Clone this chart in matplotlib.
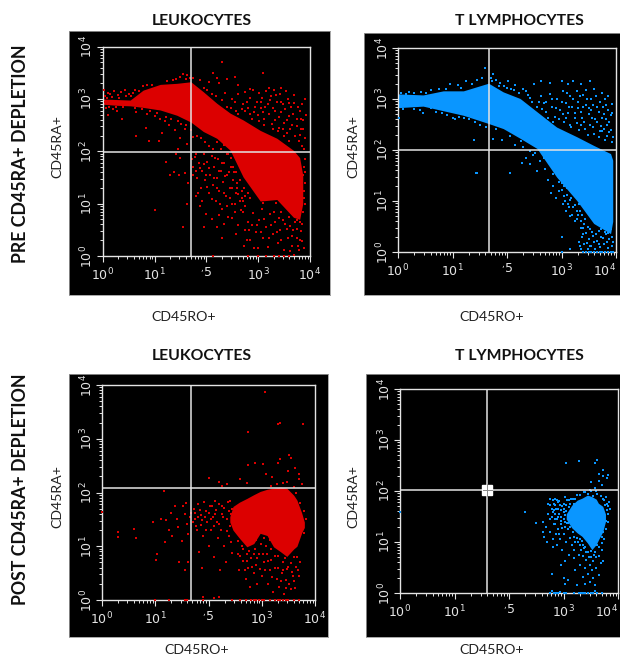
import matplotlib
matplotlib.use("Agg")
import matplotlib.pyplot as plt
import numpy as np
from matplotlib.ticker import LogLocator, NullFormatter

W, H = 620, 657
RED = "#dc0000"
BLUE = "#0a96ff"
LIGHT = "#e4e4e4"
plt.rcParams["font.family"] = ["Lato", "DejaVu Sans"]

tick_values = [1, 10, 100, 1000, 10000]
x_tick_labels = ["10$^{0}$", "10$^{1}$", "$^{,}$5", "10$^{3}$", "10$^{4}$"]
y_tick_labels = ["10$^{0}$", "10$^{1}$", "10$^{2}$", "10$^{3}$", "10$^{4}$"]

# All positions below are log10 of the fluorescence value.
# Dense populations: column position, upper edge, lower edge
p1_x = [0.01, 0.27, 0.53, 0.78, 1.11, 1.43, 1.70, 1.94, 2.20, 2.46, 2.71, 3.04, 3.36, 3.68, 3.80, 3.86]
p1_top = [3.00, 2.99, 2.98, 3.17, 3.28, 3.30, 3.33, 3.14, 2.92, 2.73, 2.60, 2.40, 2.25, 2.02, 1.88, 1.55]
p1_bot = [2.90, 2.88, 2.87, 2.84, 2.79, 2.69, 2.56, 2.38, 2.25, 2.02, 1.51, 1.05, 1.08, 0.74, 0.70, 1.00]

p2_x = [0.00, 0.46, 0.83, 1.20, 1.66, 1.93, 2.24, 2.55, 2.91, 3.28, 3.59, 3.90, 3.94]
p2_top = [3.10, 3.08, 3.16, 3.16, 3.31, 3.14, 3.01, 2.75, 2.45, 2.26, 2.09, 1.93, 1.80]
p2_bot = [2.83, 2.86, 2.77, 2.68, 2.52, 2.42, 2.23, 2.03, 1.47, 1.01, 0.56, 0.36, 0.60]

p3_x = [2.40, 2.46, 2.58, 2.72, 2.85, 2.97, 3.10, 3.22, 3.35, 3.47, 3.60, 3.66, 3.75, 3.80]
p3_top = [1.55, 1.74, 1.82, 1.89, 1.96, 2.02, 2.06, 2.08, 2.10, 2.08, 1.95, 1.86, 1.62, 1.45]
p3_bot = [1.45, 1.30, 1.15, 0.99, 1.05, 1.24, 1.20, 0.99, 0.90, 0.81, 0.95, 1.00, 1.25, 1.35]

p4_x = [3.05, 3.15, 3.25, 3.34, 3.44, 3.52, 3.60, 3.64, 3.72, 3.77]
p4_top = [1.55, 1.72, 1.82, 1.86, 1.92, 1.89, 1.84, 1.76, 1.70, 1.55]
p4_bot = [1.45, 1.28, 1.18, 1.11, 0.98, 0.85, 0.95, 1.04, 1.20, 1.40]

# Individual events
p1_dots = [
 (0.02,3.18),(0.05,3.05),(0.1,3.12),(0.15,3.1),(0.22,3.15),(0.3,3.08),(0.35,3.13),(0.43,3.18),(0.5,3.1),(0.58,3.12),(0.63,3.17),(0.78,3.24),(0.85,3.27),(0.96,3.27),
 (0.06,2.82),(0.12,2.85),(0.2,2.8),(0.28,2.78),(0.1,2.7),(0.38,2.62),(0.65,2.75),(0.85,2.72),(1.0,2.68),(1.1,2.62),(1.2,2.58),(1.28,2.5),(0.65,2.3),(0.83,2.45),(0.9,2.2),(1.08,2.2),(1.15,2.35),(1.4,2.4),(1.5,2.25),(1.58,2.43),(1.62,2.15),(1.45,2.05),
 (1.5,3.42),(1.55,3.48),(1.62,3.45),(1.75,3.4),(1.88,3.36),(2.05,3.32),(2.12,3.5),(2.2,3.4),(2.25,3.3),(2.4,3.38),(2.55,3.42),(2.62,3.27),(2.85,3.2),(3.1,3.5),(2.3,3.7),(2.36,3.12),(2.5,3.0),
 (2.55,2.95),(2.62,3.1),(2.7,2.9),(2.75,3.14),(2.8,2.82),(2.85,3.02),(2.9,3.17),(2.92,2.75),(2.98,2.95),(3.02,3.12),(3.05,2.82),(3.08,3.02),(3.12,2.62),(3.15,3.15),(3.18,2.9),(3.2,2.72),(3.25,3.05),(3.28,2.83),(3.3,3.17),(3.33,2.6),(3.36,2.95),(3.4,2.45),(3.42,3.1),(3.45,2.75),(3.48,2.9),(3.5,2.55),(3.53,3.15),(3.55,2.35),(3.58,3.0),(3.6,2.68),(3.64,2.85),(3.66,2.5),(3.7,3.08),(3.72,2.3),(3.75,2.62),(3.78,2.2),(3.8,2.78),(3.82,2.42),(3.85,2.1),(3.88,2.05),(3.86,2.6),(3.9,3.0),(3.2,3.22),(3.45,3.22),
 (2.62,2.72),(2.75,2.78),(2.88,2.62),(3.02,2.58),(3.12,2.5),(3.28,2.42),(3.38,2.38),(3.5,2.3),(3.6,2.2),
 (1.42,1.95),(1.5,1.88),(1.38,1.6),(1.48,1.55),(1.58,1.58),(1.22,1.8),(1.3,1.55),(1.65,1.4),(1.72,1.85),(1.75,1.7),(1.8,1.95),(1.82,1.5),(1.86,1.78),(1.9,1.3),(1.92,1.62),(1.95,1.95),(1.98,1.45),(2.02,1.8),(2.05,1.2),(2.08,1.55),(2.1,1.92),(2.12,1.35),(2.15,1.7),(2.18,1.05),(2.2,1.5),(2.22,1.85),(2.25,1.25),(2.28,1.62),(2.3,0.9),(2.32,1.42),(2.35,1.78),(2.38,1.15),(2.4,1.55),(2.42,0.75),(2.45,1.3),(2.48,1.7),(2.5,1.0),(2.52,1.45),(2.55,0.85),(2.58,1.2),(2.6,1.4),(2.62,0.6),(2.65,1.05),(2.68,1.25),(1.8,1.15),(1.88,0.95),(2.0,0.8),(2.1,0.7),(1.95,0.55),(2.2,0.55),(2.3,0.35),(1.55,0.55),(1.62,1.0),(1.0,0.88),
 (2.7,0.85),(2.75,0.5),(2.72,0.2),(2.8,0.65),(2.85,0.3),(2.9,0.82),(2.95,0.45),(3.0,0.15),(3.02,0.68),(3.08,0.9),(3.1,0.35),(3.15,0.55),(3.18,0.18),(3.22,0.8),(3.28,0.42),(3.32,0.65),(3.38,0.25),(3.42,0.5),(3.45,0.85),(3.5,0.12),(3.52,0.62),(3.58,0.35),(3.6,0.75),(3.65,0.2),(3.68,0.5),(3.72,0.65),(3.75,0.35),(3.78,0.12),(3.82,0.48),(3.85,0.28),(3.55,0.95),(3.35,1.02),(3.1,1.02),
 (3.9,1.0),(3.9,1.4),(3.88,1.7),(3.9,1.85),(2.12,0.0),(2.8,0.0),(3.0,0.0),(3.15,0.0),(3.3,0.0),(3.4,0.0),(3.5,0.0),(3.6,0.0),(3.7,0.02),
 # second pass over the speckled regions
 (0.04,2.95),(0.08,3.02),(0.14,2.93),(0.18,3.04),(0.25,2.84),(0.32,3.02),(0.4,2.85),(0.45,3.06),(0.55,3.05),(0.62,2.82),(0.7,3.16),(0.75,2.8),(0.92,2.78),(1.05,2.74),(1.22,2.66),(1.32,2.62),(1.45,2.58),(1.52,2.52),(1.6,2.5),(1.25,3.34),(1.35,3.36),(1.42,3.38),(1.6,3.38),(1.68,3.4),
 (1.95,3.22),(2.02,3.18),(2.1,3.1),(2.18,3.05),(2.3,2.98),(2.4,2.85),(2.48,2.82),(2.58,2.78),(2.68,2.8),(2.78,2.95),(2.84,2.72),(2.94,2.85),(3.0,2.7),(3.06,2.95),(3.1,2.75),(3.14,2.85),(3.22,2.98),(3.26,2.52),(3.32,2.78),(3.35,3.08),(3.4,2.65),(3.44,2.95),(3.48,2.42),(3.52,2.8),(3.56,2.6),(3.6,2.92),(3.62,2.42),(3.68,2.72),(3.7,2.92),(3.74,2.48),(3.76,2.85),(3.8,2.32),(3.82,2.62),(3.84,2.9),(3.87,2.42),(3.9,2.25),(3.92,2.7),
 (1.7,2.4),(1.75,2.28),(1.82,2.3),(1.9,2.25),(1.98,2.18),(2.05,2.1),(2.12,2.05),(2.2,2.18),(2.28,2.05),(2.35,2.12),(2.42,1.95),(2.48,1.88),(2.52,1.7),(2.58,1.6),(2.6,1.3),(2.65,1.45),(2.68,1.1),(2.72,1.3),(2.75,1.15),(2.8,1.2),(2.85,1.1),
 (1.74,1.55),(1.78,1.9),(1.8,1.62),(1.84,1.2),(1.88,1.68),(1.92,1.05),(1.96,1.75),(2.0,1.55),(2.02,1.32),(2.06,1.68),(2.1,1.08),(2.14,1.5),(2.16,1.88),(2.2,1.3),(2.24,1.62),(2.26,1.0),(2.3,1.78),(2.34,1.2),(2.36,1.52),(2.4,1.95),(2.44,1.6),(2.46,1.1),(2.5,1.3),(2.54,1.6),(2.56,1.0),(2.62,1.18),(2.66,0.88),(2.7,1.05),(2.74,0.95),(2.4,0.95),(2.25,0.78),(2.34,0.62),(2.5,0.72),(2.58,0.42),
 (2.78,0.3),(2.82,0.5),(2.88,0.6),(2.92,0.15),(2.98,0.6),(3.05,0.45),(3.12,0.7),(3.2,0.35),(3.25,0.6),(3.3,0.85),(3.36,0.45),(3.4,0.72),(3.44,0.3),(3.48,0.68),(3.55,0.52),(3.62,0.58),(3.66,0.38),(3.7,0.8),(3.74,0.52),(3.8,0.3),(3.84,0.62),(3.88,0.15),(3.76,0.2),(3.62,0.1),
 (3.88,1.25),(3.86,1.55),(3.9,1.6),(3.88,1.1),(3.86,0.85),(3.8,0.65),(3.75,0.68),
]
p2_dots = [
 (0.02,2.62),(0.1,2.8),(0.2,3.13),(0.3,2.8),(0.4,2.78),(0.45,2.72),(0.52,3.12),(0.6,3.18),(0.7,2.75),(0.75,3.2),(0.9,2.68),(0.88,3.2),(1.0,2.62),(0.95,3.3),(1.05,2.6),(1.1,3.27),(1.15,3.22),(1.25,3.35),(1.3,2.6),(1.35,3.3),(1.45,3.38),(1.42,2.55),(1.55,3.42),(1.6,3.6),(1.75,3.5),(1.62,2.45),(1.4,2.2),
 (1.72,3.35),(1.8,3.38),(1.88,3.32),(1.95,3.25),(2.02,3.35),(2.08,3.2),(2.15,3.28),(2.22,3.12),(2.3,3.2),(2.38,3.08),(2.5,3.3),(2.62,3.36),(2.78,3.32),(3.0,3.35),(3.12,3.3),(3.22,3.35),(3.35,3.3),(3.52,3.35),(3.45,3.18),
 (2.45,2.95),(2.55,2.85),(2.62,3.05),(2.68,2.92),(2.72,2.75),(2.78,3.1),(2.82,2.85),(2.88,2.65),(2.92,3.0),(2.98,2.78),(3.02,3.15),(3.05,2.55),(3.08,2.92),(3.12,2.72),(3.15,3.05),(3.18,2.45),(3.2,2.85),(3.25,2.62),(3.28,3.15),(3.3,2.95),(3.32,2.4),(3.36,2.75),(3.4,3.08),(3.42,2.55),(3.45,2.88),(3.48,2.3),(3.5,2.7),(3.55,3.0),(3.58,2.45),(3.6,3.2),(3.62,2.6),(3.65,2.85),(3.68,2.25),(3.7,2.95),(3.72,2.48),(3.75,3.12),(3.78,2.7),(3.8,2.2),(3.82,2.88),(3.84,2.5),(3.86,3.05),(3.88,2.35),(3.9,2.68),(3.92,2.15),(3.92,2.9),(3.35,2.5),(3.55,2.78),(3.75,2.38),
 (1.8,2.42),(1.75,2.22),(1.9,2.2),(2.05,2.28),(2.15,2.1),(2.25,2.18),(2.3,2.05),(2.42,1.98),(2.28,1.75),(2.35,1.85),(2.42,1.72),(2.48,1.9),(2.55,1.58),(2.52,1.95),(2.6,1.78),(2.68,1.85),(2.7,1.62),(2.75,1.42),(2.8,1.7),(2.85,1.52),(2.05,1.55),(1.45,1.55),
 (2.8,1.15),(2.85,1.3),(2.9,1.05),(2.95,1.2),(3.0,1.35),(3.02,0.95),(3.05,1.1),(3.08,0.8),(3.1,1.25),(3.12,0.95),(3.15,0.7),(3.18,1.05),(3.22,0.88),(3.25,0.6),(3.28,0.8),(3.32,0.95),(3.35,0.48),(3.38,0.72),(3.42,0.55),(3.45,0.85),(3.0,0.3),(3.0,0.0),(3.15,0.05),
 (3.32,0.2),(3.35,0.05),(3.38,0.3),(3.42,0.15),(3.45,0.38),(3.48,0.05),(3.5,0.25),(3.52,0.45),(3.55,0.12),(3.58,0.32),(3.62,0.05),(3.65,0.22),(3.68,0.42),(3.7,0.1),(3.72,0.3),(3.75,0.5),(3.78,0.15),(3.82,0.35),(3.85,0.08),(3.88,0.25),(3.9,0.45),(3.92,0.12),
 (3.4,0.0),(3.45,0.0),(3.5,0.0),(3.55,0.0),(3.6,0.0),(3.65,0.0),(3.7,0.0),(3.75,0.0),(3.8,0.0),(3.85,0.0),(3.9,0.0),(3.95,0.0),
 (1.43,1.55),
 # second pass over the speckled regions
 (0.05,3.12),(0.15,3.1),(0.3,3.12),(0.42,3.14),(0.6,2.82),(0.8,2.72),(1.12,2.64),(1.22,2.62),(1.5,2.5),(1.7,3.42),(1.85,3.25),(2.0,3.22),(2.12,3.18),(2.35,3.15),(2.42,3.02),(2.58,2.95),(2.65,2.8),(2.72,2.95),(2.75,2.62),(2.82,3.0),(2.85,2.55),(2.9,2.82),(2.95,2.6),(3.0,2.95),(3.02,2.7),(3.08,2.62),(3.1,3.12),(3.14,2.85),(3.16,2.5),(3.22,3.0),(3.24,2.72),(3.28,2.52),(3.3,2.82),(3.34,3.05),(3.38,2.62),(3.4,2.85),(3.44,2.42),(3.46,3.0),(3.5,2.82),(3.52,2.5),(3.56,2.62),(3.58,2.88),(3.6,2.32),(3.64,3.05),(3.66,2.55),(3.68,2.75),(3.7,2.38),(3.74,2.62),(3.76,2.85),(3.78,2.42),(3.8,3.0),(3.82,2.6),(3.84,2.28),(3.86,2.78),(3.88,2.55),(3.9,2.4),(3.92,2.72),(3.94,2.25),
 (2.65,2.05),(2.72,1.98),(2.78,1.92),(2.82,1.82),(2.88,1.75),(2.9,1.58),(2.95,1.38),(2.98,1.5),(3.0,1.22),(3.04,1.3),(3.06,1.0),(3.1,1.12),(3.14,0.88),(3.16,1.02),(3.2,0.72),(3.24,0.92),(3.28,0.65),(3.3,0.72),(3.34,0.8),(3.36,0.6),(3.4,0.48),(3.44,0.65),(3.48,0.5),
 (3.34,0.12),(3.4,0.35),(3.46,0.18),(3.52,0.12),(3.56,0.4),(3.6,0.2),(3.64,0.35),(3.68,0.15),(3.72,0.45),(3.76,0.28),(3.8,0.4),(3.84,0.2),(3.86,0.38),(3.92,0.3),(3.94,0.2),
]
p3_dots = [
 (0.0,1.64),(0.3,1.26),(0.3,1.18),(0.6,1.33),(0.63,1.15),(0.95,1.45),(1.02,0.75),(1.03,0.85),(1.1,1.5),(1.18,1.07),(1.2,1.48),(1.16,2.02),(1.25,1.3),(1.3,1.62),(1.32,1.2),(1.38,1.75),(1.4,1.5),(1.42,1.35),(1.45,0.7),(1.5,1.1),(1.52,1.75),(1.55,1.6),(1.55,0.55),(1.6,1.42),(1.62,1.22),(1.58,1.8),(1.62,0.7),(1.65,1.55),
 (1.72,1.7),(1.75,1.5),(1.78,1.3),(1.8,1.78),(1.82,0.9),(1.85,1.58),(1.85,1.4),(1.88,0.6),(1.9,1.2),(1.92,1.82),(1.95,1.65),(1.98,1.45),(2.0,1.0),(2.02,1.75),(2.05,1.3),(2.08,1.55),(2.1,0.8),(2.12,1.85),(2.15,1.68),(2.18,1.15),(2.2,1.42),(2.22,0.55),(2.25,1.75),(2.28,1.55),(2.3,1.0),(2.32,0.7),(2.35,1.28),(2.38,1.65),(2.4,1.85),(2.42,1.08),(2.45,0.88),(2.2,2.2),(2.0,2.27),(2.25,2.12),(2.35,2.15),(2.6,2.25),(2.72,2.18),
 (2.55,0.85),(2.58,0.55),(2.62,1.0),(2.65,0.72),(2.7,0.4),(2.72,0.85),(2.75,0.6),(2.78,0.25),(2.8,0.78),(2.85,0.5),(2.88,0.95),(2.9,0.65),(2.92,0.3),(2.95,0.85),(2.98,1.05),(3.0,0.45),(3.05,0.7),(3.08,1.0),(3.1,0.85),(3.12,0.3),(3.15,0.55),(3.18,0.75),(3.22,0.15),(3.25,0.6),(3.28,0.4),(3.3,0.82),(3.32,0.25),(3.38,0.5),(3.4,0.7),(3.42,0.12),(3.45,0.38),(3.48,0.58),(3.52,0.3),(3.55,0.68),(3.58,0.45),(3.6,0.8),(3.62,0.22),(3.68,0.55),(3.72,0.7),
 (3.05,1.15),(3.1,1.25),(2.9,1.12),(2.85,1.18),(3.15,1.12),(2.75,2.52),(2.88,2.55),(3.02,2.53),(3.3,2.55),(3.35,2.62),(3.52,2.7),(3.55,2.65),(3.62,2.45),(3.7,2.35),(3.5,2.4),(3.2,2.28),(3.08,2.35),(3.3,3.28),(3.35,3.3),(3.77,3.28),(2.74,3.12),(3.07,3.87),(3.7,2.25),(3.75,2.15),
 (1.0,0.0),(1.25,0.0),(1.55,0.0),(1.6,0.0),(1.9,0.05),(1.9,0.0),(2.1,0.03),(2.2,0.05),(2.45,0.0),(2.6,0.0),(2.7,0.0),(2.8,0.0),(2.85,0.0),(2.9,0.0),(2.95,0.0),(3.0,0.0),(3.05,0.0),(3.15,0.0),(3.25,0.0),(3.3,0.0),(3.35,0.0),(3.4,0.0),(3.45,0.0),(3.5,0.0),(3.6,0.0),(3.7,0.0),
 # second pass over the speckled regions
 (1.68,1.62),(1.7,1.45),(1.74,1.62),(1.76,1.38),(1.8,1.55),(1.84,1.68),(1.88,1.48),(1.94,1.55),(1.96,1.3),(2.0,1.62),(2.04,1.5),(2.06,1.75),(2.1,1.38),(2.12,1.6),(2.16,1.45),(2.2,1.78),(2.24,1.3),(2.26,1.6),(2.3,1.72),(2.34,1.5),(2.36,1.82),(2.4,1.38),(2.42,1.6),(2.38,1.2),(2.44,1.7),
 (2.56,1.1),(2.6,0.82),(2.64,0.95),(2.68,0.55),(2.72,0.72),(2.76,0.92),(2.82,0.62),(2.86,0.85),(2.92,0.78),(2.96,0.58),(3.02,0.85),(3.06,0.55),(3.12,0.72),(3.18,0.95),(3.2,0.42),(3.24,0.82),(3.3,0.6),(3.36,0.35),(3.4,0.55),(3.44,0.78),(3.46,0.22),(3.5,0.62),(3.54,0.2),(3.56,0.52),(3.6,0.35),(3.64,0.62),(3.66,0.8),(3.7,0.45),
 (3.18,2.12),(3.28,2.15),(3.4,2.18),(3.48,2.2),(3.6,2.1),(3.65,2.0),(3.72,1.8),(3.8,1.65),(3.84,1.5),(3.8,1.25),
]
p4_dots = [
 (0.0,1.58),(2.3,1.58),(2.5,1.38),(2.62,1.4),(2.62,1.2),(2.65,1.1),(2.68,1.3),(2.7,1.0),(2.72,1.55),(2.72,1.75),(2.75,1.45),(2.75,1.85),(2.76,1.2),(2.78,1.65),(2.8,1.05),(2.8,0.9),(2.82,1.35),(2.82,1.75),(2.85,1.55),(2.85,1.85),(2.86,1.15),(2.88,1.45),(2.88,0.95),(2.9,1.65),(2.9,1.25),(2.92,1.8),(2.93,1.05),(2.95,1.5),(2.95,1.35),(2.98,1.7),(2.98,0.85),(3.0,1.15),(3.0,1.58),(3.02,1.88),(3.03,1.4),(3.05,1.0),(3.05,1.72),(3.08,1.25),(3.08,1.52),(3.1,1.82),(3.1,0.75),(3.12,1.08),(3.12,1.42),(3.15,1.65),(3.15,0.95),(3.18,1.2),(3.2,0.85),(3.22,1.0),(3.25,1.08),(3.28,0.75),(3.3,0.95),(3.02,0.62),
 (2.8,1.82),(2.85,1.72),(2.9,1.5),(2.95,1.62),(3.0,1.75),(3.0,1.45),(3.05,1.6),(3.08,1.38),(2.9,1.78),(2.82,1.62),(2.78,1.5),(2.85,1.35),(3.12,1.75),(3.1,1.55),(3.15,1.45),(3.18,1.85),(2.98,1.28),(2.92,1.15),
 (2.78,0.38),(2.95,0.55),(3.0,0.3),(3.02,0.18),(3.08,0.25),(3.2,0.68),(3.22,0.45),(3.25,0.15),(3.3,0.55),(3.35,0.72),(3.35,0.32),(3.38,0.88),(3.4,0.5),(3.4,0.18),(3.42,0.65),(3.45,0.8),(3.45,0.38),(3.48,0.55),(3.48,0.22),(3.5,0.7),(3.52,0.45),(3.55,0.3),(3.55,0.62),(3.58,0.15),(3.58,0.8),(3.6,0.5),(3.62,0.95),(3.65,0.35),(3.65,0.72),(3.68,0.58),(3.7,0.85),(3.72,0.62),
 (3.3,1.92),(3.38,1.98),(3.45,1.95),(3.5,2.0),(3.58,2.05),(3.55,1.9),(3.62,1.95),(3.68,1.9),(3.72,1.85),(3.78,1.88),(3.8,1.75),(3.82,1.55),(3.85,1.65),(3.82,1.4),(3.78,1.25),(3.72,1.2),(3.7,1.1),(3.75,1.05),(3.58,2.55),(3.5,2.17),(3.05,2.55),(3.28,2.58),(3.62,2.6),(3.72,2.42),(3.65,2.33),(3.65,2.2),(3.72,2.3),(3.8,2.25),(3.7,2.12),(3.82,2.32),
 (2.75,0.0),(2.78,0.03),(2.82,0.0),(2.86,0.0),(2.9,0.0),(2.94,0.02),(3.0,0.0),(3.05,0.0),(3.2,0.0),(3.28,0.0),(3.32,0.0),(3.36,0.0),(3.4,0.0),(3.45,0.0),(3.5,0.0),(3.55,0.0),(3.58,0.04),(3.62,0.0),(3.7,0.0),
 # second pass over the speckled regions
 (2.76,1.72),(2.8,1.58),(2.84,1.45),(2.86,1.65),(2.88,1.82),(2.92,1.55),(2.94,1.72),(2.96,1.42),(3.0,1.65),(3.02,1.52),(3.02,1.3),(3.06,1.82),(3.06,1.38),(3.1,1.68),(3.12,1.3),(3.14,1.85),(3.16,1.6),(3.2,1.75),(3.2,1.1),(3.22,1.85),(3.24,1.92),(3.26,1.0),(3.3,1.05),(3.32,0.85),(3.34,1.02),(3.36,0.95),(3.4,0.9),(3.42,0.8),(3.46,0.7),(3.5,0.82),(3.56,0.75),(3.6,0.7),(3.66,0.9),(3.7,0.98),
 (3.76,1.72),(3.8,1.62),(3.82,1.7),(3.78,1.42),(3.84,1.78),(3.74,1.82),(3.4,1.98),(3.48,2.02),(3.6,2.0),
]

# Quadrant gates (x, y)
gates = [(1.70, 1.99), (1.67, 2.00), (1.67, 2.08), (1.60, 2.02)]

panels = [
 dict(bg=(69, 31, 330, 295), plot=(102.7, 46.7, 310, 256), color=RED, x=p1_x, top=p1_top, bot=p1_bot, dots=p1_dots, gate=gates[0]),
 dict(bg=(364, 33, 620, 295), plot=(398, 48, 616, 252), color=BLUE, x=p2_x, top=p2_top, bot=p2_bot, dots=p2_dots, gate=gates[1]),
 dict(bg=(69, 374, 328, 637), plot=(102, 385, 315, 600), color=RED, x=p3_x, top=p3_top, bot=p3_bot, dots=p3_dots, gate=gates[2]),
 dict(bg=(366, 374, 620, 637), plot=(400, 389, 618, 593), color=BLUE, x=p4_x, top=p4_top, bot=p4_bot, dots=p4_dots, gate=gates[3]),
]

fig = plt.figure(figsize=(W / 100, H / 100), dpi=100, facecolor="white")

def rect(x0, y0, x1, y1):
    return [x0 / W, 1 - y1 / H, (x1 - x0) / W, (y1 - y0) / H]

for i, p in enumerate(panels):
    bg = fig.add_axes(rect(*p["bg"]), facecolor="black")
    bg.set_xticks([]); bg.set_yticks([])
    for s in bg.spines.values():
        s.set_color("#999999"); s.set_linewidth(0.6)

    ax = fig.add_axes(rect(*p["plot"]), facecolor="black")
    ax.set_xscale("log"); ax.set_yscale("log")
    ax.set_xlim(1, 1e4); ax.set_ylim(1, 1e4)
    xs = 10.0 ** np.array(p["x"])
    ax.fill_between(xs, 10.0 ** np.array(p["bot"]), 10.0 ** np.array(p["top"]),
                    color=p["color"], lw=0, zorder=2)
    dx, dy = zip(*p["dots"])
    ax.scatter(10.0 ** np.array(dx), 10.0 ** np.array(dy), s=2.6, marker="s",
               color=p["color"], linewidths=0, zorder=3, clip_on=False)
    gx, gy = p["gate"]
    ax.axvline(10 ** gx, color=LIGHT, lw=1.1, zorder=4)
    ax.axhline(10 ** gy, color=LIGHT, lw=1.1, zorder=4)
    if i == 3:
        ax.plot([10 ** gx], [10 ** gy], marker="s", ms=7, color="white", zorder=5, ls="none")
        ax.axvline(10 ** gx, ymin=0.475, ymax=0.535, color="#888888", lw=0.7, zorder=6)
        ax.axhline(10 ** gy, xmin=0.38, xmax=0.42, color="#888888", lw=0.7, zorder=6)
    for s in ax.spines.values():
        s.set_color(LIGHT); s.set_linewidth(1.0)
    ax.set_xticks(tick_values, x_tick_labels)
    ax.set_yticks(tick_values, y_tick_labels)
    for axis in (ax.xaxis, ax.yaxis):
        axis.set_minor_locator(LogLocator(base=10, subs=np.arange(2, 10), numticks=10))
        axis.set_minor_formatter(NullFormatter())
    ax.tick_params(which="major", length=4, width=0.8, color=LIGHT, labelcolor=LIGHT,
                   labelsize=9, pad=1)
    ax.tick_params(axis="x", which="major", pad=3.5)
    ax.tick_params(which="minor", length=2.2, width=0.7, color=LIGHT)
    for t in ax.get_xticklabels():
        t.set_family("DejaVu Sans")
    if i in (1, 3):
        ax.get_xticklabels()[-1].set_ha("right")
    for t in ax.get_yticklabels():
        t.set_family("DejaVu Sans"); t.set_rotation(90); t.set_va("center")

def label(x, y, s, **kw):
    fig.text(x / W, 1 - y / H, s, ha="center", va="center", color=kw.pop("color", "#111111"), **kw)

for x, y, s in [(202, 21, "LEUKOCYTES"), (519, 21, "T LYMPHOCYTES"),
                (202, 356, "LEUKOCYTES"), (519, 356, "T LYMPHOCYTES")]:
    label(x, y, s, fontsize=11.3, fontweight="bold")
for x, y in [(57, 147), (353, 147), (57, 497), (353, 497)]:
    label(x, y, "CD45RA+", fontsize=10.2, rotation=90, color="#222222")
for x, y in [(184, 317), (492, 317), (197, 650), (492, 650)]:
    label(x, y, "CD45RO+", fontsize=10.2, color="#222222")
label(21, 154, "PRE CD45RA+ DEPLETION", fontsize=12.8, fontweight="bold", rotation=90)
label(21, 489, "POST CD45RA+ DEPLETION", fontsize=12.8, fontweight="bold", rotation=90)

fig.savefig("out.png", dpi=100, facecolor="white")
